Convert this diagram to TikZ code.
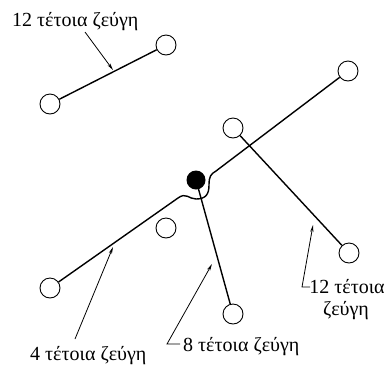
\documentclass[tikz,border=0pt]{standalone}
\usepackage{fontspec}
\setmainfont{Liberation Serif}
\usetikzlibrary{arrows.meta}
\begin{document}
\begin{tikzpicture}[x=1pt,y=-1pt,
  site/.style={circle,draw,line width=0.9pt,minimum size=20pt,inner sep=0pt},
  hub/.style={circle,fill=black,minimum size=19pt,inner sep=0pt},
  bond/.style={line width=1.4pt},
  pointer/.style={line width=0.8pt,-{Stealth[length=7pt,width=3.2pt]}},
  lbl/.style={font=\fontsize{20}{20}\selectfont,inner sep=0pt}]
\useasboundingbox (0,0) rectangle (385,365);

% open sites and the central atom
\node[site] (a1) at (50,104) {};
\node[site] (a2) at (166,45) {};
\node[site] (b1) at (50,288) {};
\node[site] (b2) at (348,71) {};
\node[site] (c1) at (233,128) {};
\node[site] (c2) at (349,253) {};
\node[site] (d)  at (233,314) {};
\node[site] (e)  at (166,228) {};
\node[hub]  (h)  at (196,180) {};

% bends of the long wire round the central atom
\coordinate (w1) at (178,198);
\coordinate (w2) at (196,199);
\coordinate (w3) at (209,185);
\coordinate (w4) at (216,171);

% pairs
\draw[bond] (a1) -- (a2);
\draw[bond] (b1) -- (w1)
  .. controls (186,192) and (189,199) .. (w2)
  .. controls (206,199) and (209,194) .. (w3)
  .. controls (209,176) and (211,174) .. (w4) -- (b2);
\draw[bond] (h.center) -- (d);
\draw[bond] (c1) -- (c2);

% labels
\node[lbl,anchor=base west] (t1) at (12,26) {12 τέτοια ζεύγη};
\node[lbl,anchor=base west] (t4) at (30,360) {4 τέτοια ζεύγη};
\node[lbl,anchor=base west] (t8) at (183,351) {8 τέτοια ζεύγη};
\node[lbl,anchor=base] (t12) at (347,293) {12 τέτοια};
\node[lbl,anchor=base] (t12b) at (346,315) {ζεύγη};

% pointers from labels
\coordinate (p1) at (85,32);
\coordinate (q1) at (113,70);
\coordinate (p4) at (75,339);
\coordinate (q4) at (113,247);
\coordinate (p8) at (180,344);
\coordinate (k8) at (167,344);
\coordinate (q8) at (212,264);
\coordinate (p12) at (310,287);
\coordinate (k12) at (302,287);
\coordinate (q12) at (313,225);

\draw[pointer] (p1) -- (q1);
\draw[pointer] (p4) -- (q4);
\draw[pointer] (p8) -- (k8) -- (q8);
\draw[pointer] (p12) -- (k12) -- (q12);
\end{tikzpicture}
\end{document}
